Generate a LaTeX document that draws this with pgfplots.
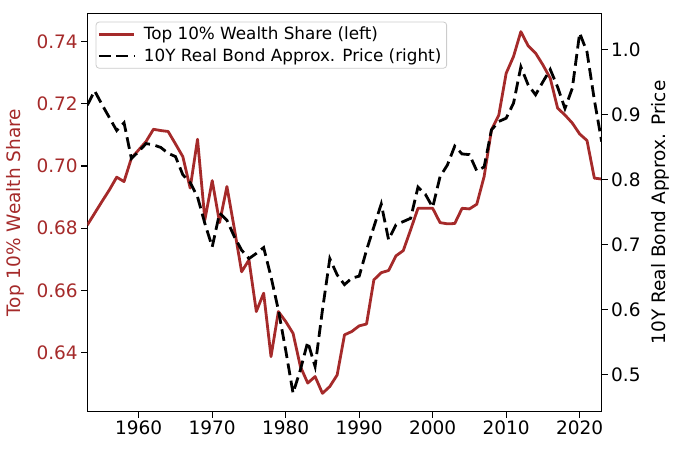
\documentclass[border=0pt]{standalone}
\usepackage{fontspec}
\setmainfont{DejaVu Sans}
\usepackage{pgfplots}
\usepackage{pgfplotstable}
\pgfplotsset{compat=1.18}
\definecolor{wred}{HTML}{A52A2A}

\pgfplotstableread{
year share
1953 0.6810
1954 0.6848
1955 0.6886
1956 0.6923
1957 0.6964
1958 0.6950
1959 0.7025
1960 0.7052
1961 0.7079
1962 0.7118
1963 0.7114
1964 0.7111
1965 0.7071
1966 0.7030
1967 0.6929
1968 0.7086
1969 0.6827
1970 0.6953
1971 0.6818
1972 0.6934
1973 0.6800
1974 0.6660
1975 0.6698
1976 0.6532
1977 0.6591
1978 0.6387
1979 0.6532
1980 0.6500
1981 0.6462
1982 0.6355
1983 0.6302
1984 0.6323
1985 0.6269
1986 0.6291
1987 0.6328
1988 0.6457
1989 0.6468
1990 0.6486
1991 0.6492
1992 0.6634
1993 0.6657
1994 0.6664
1995 0.6711
1996 0.6728
1997 0.6795
1998 0.6864
1999 0.6864
2000 0.6864
2001 0.6818
2002 0.6814
2003 0.6815
2004 0.6864
2005 0.6862
2006 0.6877
2007 0.6966
2008 0.7116
2009 0.7164
2010 0.7298
2011 0.7352
2012 0.7432
2013 0.7386
2014 0.7363
2015 0.7325
2016 0.7282
2017 0.7186
2018 0.7164
2019 0.7138
2020 0.7103
2021 0.7082
2022 0.6961
2023 0.6958
}\sharedata

\pgfplotstableread{
year price
1953 0.914
1954 0.936
1955 0.915
1956 0.895
1957 0.875
1958 0.887
1959 0.832
1960 0.843
1961 0.855
1962 0.853
1963 0.849
1964 0.840
1965 0.835
1966 0.807
1967 0.795
1968 0.773
1969 0.732
1970 0.696
1971 0.748
1972 0.737
1973 0.712
1974 0.691
1975 0.678
1976 0.686
1977 0.695
1978 0.650
1979 0.599
1980 0.537
1981 0.471
1982 0.507
1983 0.550
1984 0.512
1985 0.599
1986 0.678
1987 0.653
1988 0.638
1989 0.648
1990 0.651
1991 0.691
1992 0.727
1993 0.762
1994 0.707
1995 0.730
1996 0.735
1997 0.740
1998 0.788
1999 0.777
2000 0.757
2001 0.804
2002 0.822
2003 0.851
2004 0.839
2005 0.838
2006 0.813
2007 0.819
2008 0.876
2009 0.889
2010 0.894
2011 0.917
2012 0.973
2013 0.945
2014 0.930
2015 0.950
2016 0.969
2017 0.942
2018 0.909
2019 0.940
2020 1.025
2021 0.996
2022 0.922
2023 0.858
}\bonddata

\pgfplotsset{
  base/.style={
    at={(87.3pt,50.3pt)}, anchor=south west,
    scale only axis, width=514.4pt, height=398.4pt,
    xmin=1953, xmax=2023,
    font=\fontsize{18.5}{22}\selectfont,
    tick label style={font=\fontsize{18.5}{22}\selectfont},
    label style={font=\fontsize{18.5}{22}\selectfont},
    /pgf/number format/assume math mode=true,
    tick align=outside,
    major tick length=6pt,
    every tick/.style={black, line width=1.2pt},
    axis line style={line width=1.2pt, black},
    clip=true,
  }
}

\begin{document}
\begin{tikzpicture}[font=\fontsize{18.5}{22}\selectfont]
\path[use as bounding box] (0,0) rectangle (680pt,462pt);
\begin{axis}[base,
  ymin=0.6210, ymax=0.7491,
  xtick={1960,1970,...,2020},
  xticklabel style={/pgf/number format/1000 sep={}},
  ytick={0.64,0.66,0.68,0.70,0.72,0.74},
  yticklabel style={text=wred, /pgf/number format/.cd, fixed, fixed zerofill, precision=2},
  xtick pos=bottom, ytick pos=left,
  ylabel={Top 10\% Wealth Share},
  ylabel style={text=wred, at={(axis description cs:-0.1392,0.5)}, anchor=center},
]
\addplot[wred, line width=2.8pt, line join=round] table[x=year, y=share] {\sharedata};
\end{axis}
\begin{axis}[base,
  ymin=0.4425, ymax=1.0554,
  axis x line=none,
  axis y line*=right,
  ytick={0.5,0.6,0.7,0.8,0.9,1.0},
  yticklabel style={/pgf/number format/.cd, fixed, fixed zerofill, precision=1},
  ylabel={10Y Real Bond Approx. Price},
  ylabel style={at={(axis description cs:1.1133,0.5)}, anchor=center, rotate=0},
  legend cell align=left,
  legend image code/.code={\draw[#1] (0pt,0pt) -- (35pt,0pt);},
  legend style={at={(axis description cs:0.0163,0.979)}, anchor=north west,
    draw=black!20, line width=0.8pt, rounded corners=3pt, fill=white, fill opacity=0.8, text opacity=1,
    inner xsep=1.5pt, inner ysep=1.2pt, column sep=4.7pt,
    nodes={inner sep=3.8pt, font=\fontsize{16.8}{20}\selectfont}},
]
\addlegendimage{wred, line width=2.8pt}
\addlegendentry{Top 10\% Wealth Share (left)}
\addplot[black, line width=2.8pt, dash pattern=on 11.8pt off 5.6pt] table[x=year, y=price] {\bonddata};
\addlegendentry{10Y Real Bond Approx. Price (right)}
\end{axis}
\end{tikzpicture}
\end{document}
